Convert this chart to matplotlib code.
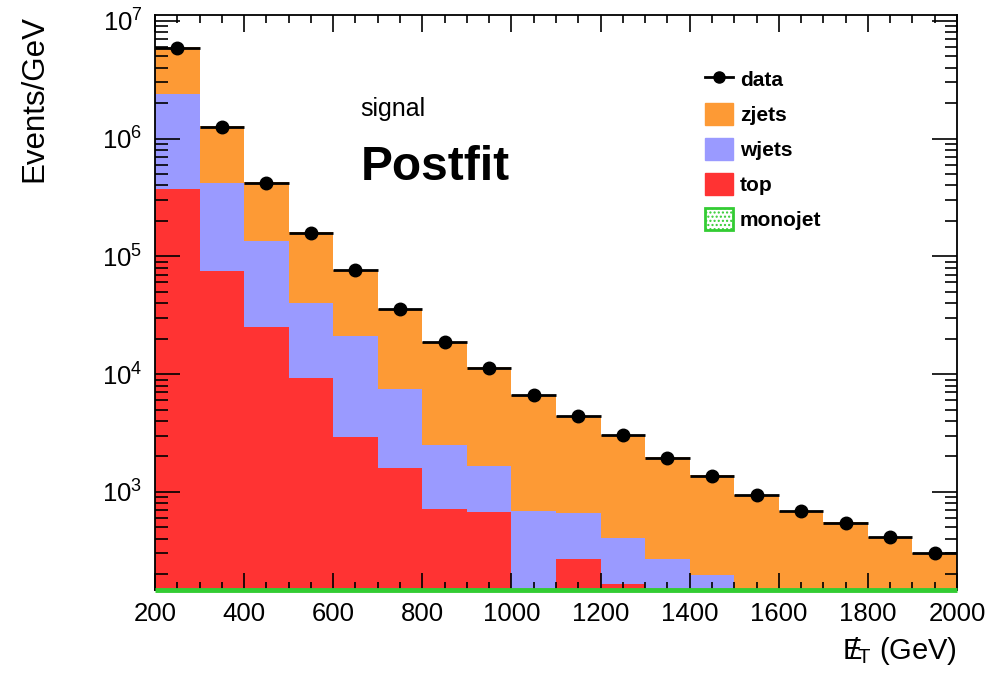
"""Postfit MET distribution in the signal region, ROOT-style stacked histogram."""

import matplotlib
matplotlib.use("Agg")
import matplotlib.pyplot as plt
import numpy as np
from matplotlib.lines import Line2D
from matplotlib.patches import Patch

plt.rcParams["font.family"] = ["Liberation Sans", "DejaVu Sans"]
plt.rcParams["mathtext.fontset"] = "custom"
plt.rcParams["mathtext.rm"] = "Liberation Sans"
plt.rcParams["mathtext.it"] = "Liberation Sans"
plt.rcParams["mathtext.bf"] = "Liberation Sans:bold"
plt.rcParams["hatch.linewidth"] = 1.0

# MET bin edges (GeV)
edges = np.arange(200, 2001, 100)

# per-bin yields, Events/GeV
top = [3.74e5, 7.5e4, 2.5e4, 9.3e3, 2.9e3, 1.6e3, 715, 673, 0, 269,
       165, 0, 0, 0, 0, 0, 0, 0]
wjets = [2.03e6, 3.45e5, 1.1e5, 3.07e4, 1.81e4, 5.9e3, 1.785e3, 987, 687, 391,
         240, 269, 196, 0, 0, 0, 0, 0]
zjets = [3.6e6, 8.6e5, 2.9e5, 1.2e5, 5.6e4, 2.85e4, 1.63e4, 9.74e3, 6.01e3, 3.79e3,
         2.665e3, 1.691e3, 1.184e3, 950, 695, 550, 418, 305]
monojet = [60, 30, 15, 8, 5, 3, 2, 1.2, 0.8, 0.5,
           0.3, 0.2, 0.15, 0.1, 0.08, 0.05, 0.04, 0.03]
data = [5.93e6, 1.26e6, 4.2e5, 1.58e5, 7.66e4, 3.57e4, 1.87e4, 1.13e4, 6.64e3, 4.4e3,
        3.04e3, 1.94e3, 1.36e3, 940, 687, 543, 413, 302]

YMIN, YMAX = 147, 1.12e7

C_ZJ = "#fd9a35"
C_WJ = "#9a9aff"
C_TOP = "#ff3333"
C_MONO = "#33cc33"

top = np.array(top)
wjets = np.array(wjets)
zjets = np.array(zjets)
lvl_top = top
lvl_wj = top + wjets
lvl_zj = lvl_wj + zjets
centers = 0.5 * (edges[:-1] + edges[1:])

fig = plt.figure(figsize=(9.91, 6.79), dpi=100)
ax = fig.add_axes([0.1564, 0.1311, 0.8093, 0.8468])
ax.set_yscale("log", nonpositive="clip")

ax.stairs(lvl_zj, edges, baseline=lvl_wj, fill=True, color=C_ZJ, lw=0)
ax.stairs(lvl_wj, edges, baseline=lvl_top, fill=True, color=C_WJ, lw=0)
ax.stairs(lvl_top, edges, baseline=0, fill=True, color=C_TOP, lw=0)
ax.stairs(np.clip(monojet, YMIN, None), edges, baseline=None, color=C_MONO,
          lw=3.5, clip_on=False, zorder=5)

ax.errorbar(centers, data, xerr=50, fmt="o", color="black", ms=9,
            elinewidth=2, capsize=0, zorder=6)

ax.set_xlim(200, 2000)
ax.set_ylim(YMIN, YMAX)

ax.xaxis.set_major_locator(matplotlib.ticker.MultipleLocator(200))
ax.xaxis.set_minor_locator(matplotlib.ticker.MultipleLocator(50))
ax.yaxis.set_major_locator(matplotlib.ticker.LogLocator(base=10))
ax.yaxis.set_minor_locator(matplotlib.ticker.LogLocator(base=10, subs=np.arange(2, 10)))
ax.yaxis.set_minor_formatter(matplotlib.ticker.NullFormatter())

ax.tick_params(axis="both", which="both", direction="in", top=True, right=True,
               width=1.2, labelsize=18.5)
ax.tick_params(axis="x", which="major", length=12, pad=9)
ax.tick_params(axis="x", which="minor", length=6)
ax.tick_params(axis="y", which="major", length=18, pad=9)
ax.tick_params(axis="y", which="minor", length=9)
for s in ax.spines.values():
    s.set_linewidth(1.3)

ax.set_ylabel("Events/GeV", fontsize=22.5, loc="top", labelpad=38)
ax.set_xlabel(r"$\mathrm{E\!\!\!/_{T}}$ (GeV)", fontsize=21, loc="right", labelpad=6)

ax.text(0.256, 0.825, "signal", transform=ax.transAxes, fontsize=18)
ax.text(0.256, 0.713, "Postfit", transform=ax.transAxes, fontsize=34.5,
        fontweight="bold")

handles = [
    Line2D([], [], color="black", marker="o", ms=8, lw=2),
    Patch(facecolor=C_ZJ, edgecolor=C_ZJ),
    Patch(facecolor=C_WJ, edgecolor=C_WJ),
    Patch(facecolor=C_TOP, edgecolor=C_TOP),
    Patch(facecolor="white", edgecolor=C_MONO, hatch="....", lw=2),
]
labels = ["data", "zjets", "wjets", "top", "monojet"]
ax.legend(handles, labels, loc="upper left", bbox_to_anchor=(0.675, 0.922),
          frameon=False, prop={"size": 15, "weight": "bold"},
          handlelength=1.35, handleheight=1.25, labelspacing=0.62,
          handletextpad=0.35, borderaxespad=0)

fig.savefig("out.png", dpi=100)
